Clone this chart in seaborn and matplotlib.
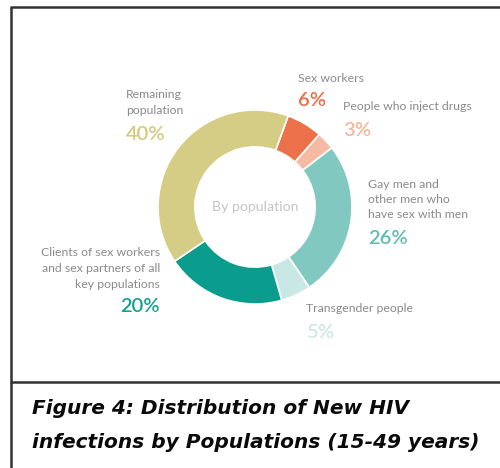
import matplotlib
matplotlib.use("Agg")
import matplotlib.pyplot as plt
import seaborn as sns

# Share of new HIV infections, drawn clockwise starting from "Sex workers"
groups = ["Sex workers", "People who inject drugs",
          "Gay men and other men who have sex with men",
          "Transgender people",
          "Clients of sex workers and sex partners of all key populations",
          "Remaining population"]
shares = [6, 3, 26, 5, 20, 40]
wedge_colors = ["#ec7049", "#f6baa3", "#80c8c0", "#c9e7e5", "#0a9c8d", "#d5cd85"]
pct_colors = ["#ec6c46", "#f4b69d", "#5fbdb3", "#cfe6e6", "#14a092", "#d2ca7c"]

sns.set_theme(style="white")
plt.rcParams["font.family"] = ["Lato", "DejaVu Sans"]

W, H = 500, 468
fig = plt.figure(figsize=(W / 100, H / 100), dpi=100)
fig.patch.set_facecolor("white")
ax = fig.add_axes([0, 0, 1, 1])
ax.set_xlim(0, W)
ax.set_ylim(0, H)
ax.set_aspect("equal")
ax.axis("off")


def Y(y_top):
    """Convert a distance from the top edge to axes y."""
    return H - y_top


# Donut
cx, cy, r_out = 255, 207, 97
ax.pie(shares, colors=wedge_colors, startangle=70, counterclock=False,
       center=(cx, Y(cy)), radius=r_out, frame=True,
       wedgeprops=dict(width=r_out * 0.38, edgecolor="white", linewidth=1.2))
ax.set_xlim(0, W)
ax.set_ylim(0, H)
ax.axis("off")

ax.text(cx, Y(cy), "By population", ha="center", va="center",
        fontsize=10.2, color="#c4c4c4")

label_gray = "#8a8a8a"
label_fs = 8.8
pct_fs = 14.5
line_gap = 15.5


def annotate(x, y_first, lines, pct, pct_y, color, ha="left"):
    for i, line in enumerate(lines):
        ax.text(x, Y(y_first + i * line_gap), line, ha=ha, va="center",
                fontsize=label_fs, color=label_gray)
    ax.text(x, Y(pct_y), pct, ha=ha, va="center", fontsize=pct_fs,
            color=color, fontweight="semibold")


annotate(126, 95, ["Remaining", "population"], f"{shares[5]}%", 134, pct_colors[5])
annotate(298, 78, ["Sex workers"], f"{shares[0]}%", 100, pct_colors[0])
annotate(343, 107, ["People who inject drugs"], f"{shares[1]}%", 130, pct_colors[1])
annotate(368, 184, ["Gay men and", "other men who", "have sex with men"],
         f"{shares[2]}%", 238, pct_colors[2])
annotate(306, 309, ["Transgender people"], f"{shares[3]}%", 332, pct_colors[3])
annotate(160, 253, ["Clients of sex workers", "and sex partners of all",
                    "key populations"], f"{shares[4]}%", 307, pct_colors[4], ha="right")

# Frame lines
frame_kw = dict(color="#333333", linewidth=1.8, solid_capstyle="butt")
ax.plot([10, W], [Y(7), Y(7)], **frame_kw)
ax.plot([10.5, 10.5], [Y(7), 0], **frame_kw)
ax.plot([10, W], [Y(382), Y(382)], **frame_kw)

# Caption
cap_kw = dict(ha="left", va="center", fontsize=14.5, color="#0a0a0a",
              fontweight="bold", fontstyle="italic", family=["DejaVu Sans"])
ax.text(32, Y(408), "Figure 4: Distribution of New HIV", **cap_kw)
ax.text(32, Y(443), "infections by Populations (15-49 years)", **cap_kw)

fig.savefig("out.png", dpi=100, facecolor="white")
